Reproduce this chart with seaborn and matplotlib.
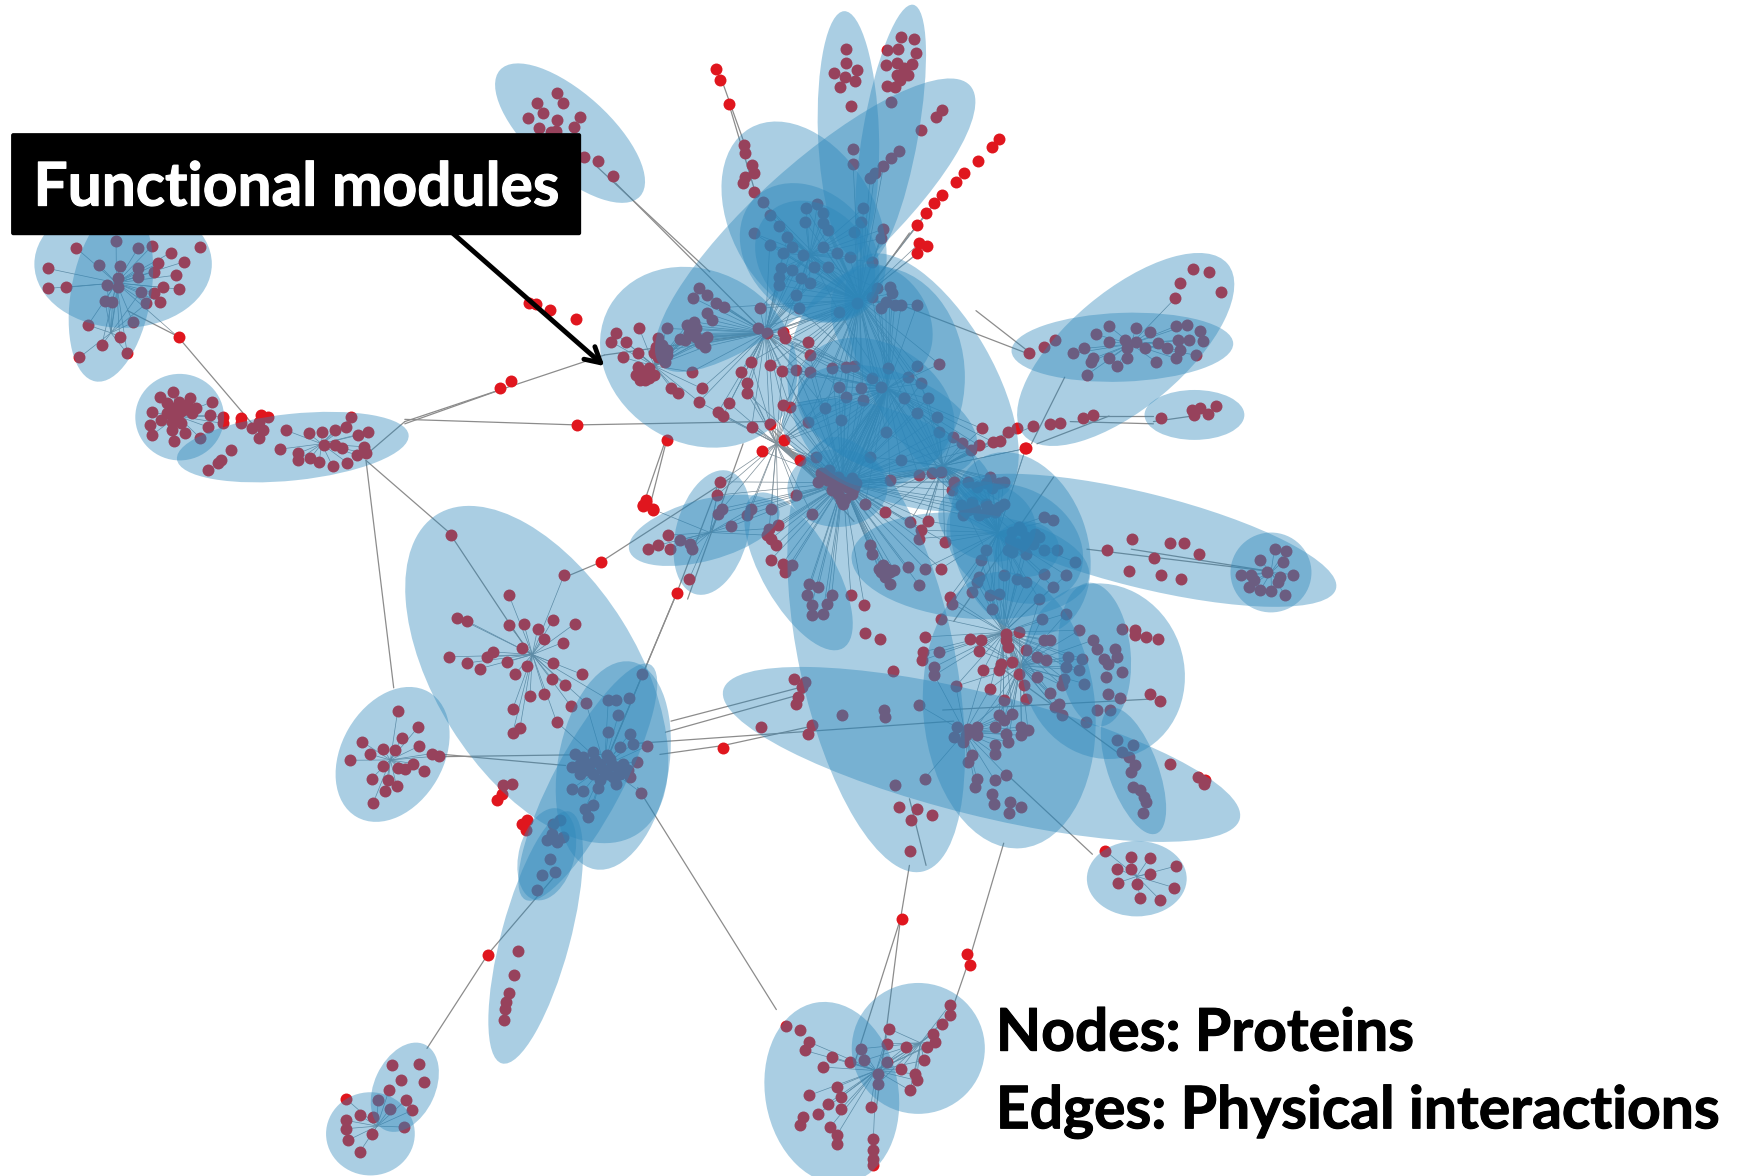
import numpy as np
import pandas as pd
import matplotlib
matplotlib.use("Agg")
import matplotlib.pyplot as plt
import matplotlib.patheffects as pe
from matplotlib.patches import Ellipse, FancyBboxPatch
import seaborn as sns

# picture units, the whole canvas is 1568 x 1060
# modules: centre x, centre y, long axis, short axis, tilt
mod_x = [514, 111, 100, 162, 264, 630, 735, 725, 730, 765, 803, 840, 790, 795, 1015, 1012, 1077, 1030, 1146, 920, 875, 720, 790, 885, 910, 995, 987, 1022, 1025, 484, 354, 553, 530, 483, 493, 635, 642, 750, 828, 334, 365, 800, 755, 800, 735, 915, 890, 925, 790]
mod_y = [120, 238, 265, 376, 403, 322, 203, 200, 228, 120, 120, 340, 340, 290, 315, 313, 374, 487, 516, 490, 510, 515, 590, 680, 640, 605, 590, 695, 792, 608, 680, 690, 705, 845, 770, 478, 480, 985, 945, 1022, 980, 410, 440, 380, 235, 490, 470, 495, 365]
mod_long = [170, 160, 160, 80, 210, 185, 376, 195, 140, 220, 235, 250, 200, 110, 240, 200, 90, 360, 73, 170, 215, 160, 400, 480, 250, 160, 130, 120, 90, 340, 130, 190, 240, 235, 85, 140, 115, 165, 120, 80, 85, 200, 90, 170, 120, 130, 90, 60, 150]
mod_short = [72, 115, 72, 78, 60, 155, 110, 130, 110, 55, 50, 110, 160, 85, 105, 62, 45, 85, 72, 120, 95, 65, 140, 110, 155, 145, 65, 45, 68, 182, 92, 100, 62, 62, 50, 55, 65, 120, 118, 75, 55, 80, 70, 90, 95, 100, 70, 50, 110]
mod_tilt = [42, 0, -80, 0, -6, 30, -42, 60, 45, 88, -80, 60, 90, 60, -40, -2, 0, 14, 0, 70, 5, 60, 78, 14, 85, 70, 85, 70, 0, 58, -60, -80, -62, -75, -75, -15, -75, 80, 0, 0, -65, 20, 0, 20, 45, 30, 20, 0, 30]

# node positions: (origin, scale) per crop
nodes_a = [(1247,278),(1202,308),(1262,310),(1217,338),(1300,350),(1183,355),(1247,360),(1207,385),(1285,380),(1235,395),(1245,392),(1308,470),(1340,482),(1373,528),
(170,743),(260,722),(310,743),(340,738),(447,740),(382,758),(413,785),(107,805),(222,795),(268,798),(310,805),(355,790),(395,825),(345,815),(310,830),(265,835),(240,855),(265,860),(107,865),(148,862),(365,862),(400,867),(315,875),(345,878),(235,902),(252,907),(328,910),(358,906),(197,975),(298,967),(268,1010),(228,1035),(285,1060),(178,1072),(400,1012),
(388,1175),(358,1190),(425,1195),(475,1205),(400,1205),(385,1225),(430,1240),(340,1237),(395,1250),(470,1245),(500,1250),(500,1270),(385,1265),(405,1270),(335,1275),(465,1280),(415,1298),(340,1305),(390,1322),(448,1313),(540,1255),(540,1270),(585,1245),(600,1250),(580,1265),(565,1285),(590,1290),(580,1315),(640,1290),(692,1300),(722,1295),(750,1290),(787,1252),(775,1280),(825,1295),(803,1305),(725,1335),(750,1335),(765,1345),(815,1340),(820,1360),(800,1365),(668,1360),(668,1380),(695,1375),(715,1385),(745,1398),(778,1388),(627,1347),(517,1350),(495,1380),(488,1390),(465,1410),
(375,1240),(410,1230),(440,1225),(420,1215),(375,1210),(385,1290),(400,1240),(360,1260),
(1185,910),(1200,912),(1233,930),(1290,957),(1145,1143),(1120,1165),(1293,1275),(1495,1320),(1447,1500),(1440,1515),(1463,1527)]

nodes_b = [(552,148),(552,190),(575,210),(525,218),(548,232),(572,243),(537,260),(562,317),
(675,112),(703,118),(643,150),(668,148),(708,158),(640,195),(665,190),(700,192),(680,205),(665,225),(690,225),(672,240),(642,258),(660,262),(652,305),
(767,330),(752,352),(718,390),(670,452),(652,475),(635,498),(615,520),(605,535),(567,447),(567,492),
(260,208),(268,240),(288,312),(323,435),(325,460),(340,495),(345,520),(325,530),(320,548),(345,575),(365,605),(380,645),(400,678),(345,700),
(893,418),(878,440),(847,482),(815,520),(798,545),(765,585),(748,610),(730,640),(710,675),(715,730),(733,738),(710,760),
(462,625),(487,612),(460,665),(500,640),(500,670),(510,690),(590,625),(585,665),(570,695),(635,687),(630,715),(380,735),(420,710),(430,740),(410,760),(455,765),(500,740),(530,760),(560,770),(610,785),(405,805),(430,810),(480,800),(400,830),(450,835),(510,800),(400,855),(440,885),(470,850),
(620,865),(650,860),(655,880),(610,890),(640,905),(660,915),(630,925),(675,915),(710,915),(575,910),(445,925),(358,925),(535,935),(222,865),(208,893),(240,885),(260,908),(278,922),(240,940),(210,965),(250,960),(195,975),(215,985),(240,1010),(205,1005),(180,1018),(225,1030),(235,1040),
(200,1000),(215,1010),(190,1020),(230,1020),
(35,1000),(25,1025),(58,1025),(88,985),(85,1060),(52,1072),(150,985),(130,1015),(125,1040),(150,1050),(130,1070),(145,1085),(110,1105),(85,1100),(80,1125),(100,1140),(120,1125),(205,1115),(160,1165),(175,1178),(228,1165),(222,1205),(290,1210),(265,1235),(275,1248),
(120,1060),(140,1035),(150,1065),(135,1055),(95,1125),(110,1135),(90,1140),
(355,985),(375,1000),(410,995),(415,1013),(465,1027),(470,1065),(338,1085),(315,1115),(380,1095),(408,1112),(440,1110),(470,1115),(330,1150),(330,1180),(410,1215),(425,1222),(465,1265),(380,1272),(340,1280),(412,1320),
(520,1105),(550,1100),(570,1098),(645,1105),(710,1098),(690,1130),(760,1092),(610,1135),(585,1165),(630,1160),(720,1150),(535,1160),(505,1225),(550,1190),(590,1200),(680,1195),(735,1195),(710,1240),(755,1250),(540,1260),(640,1295),(760,1295),(855,1285),
(790,1310),(810,1330),(830,1350),(848,1335),(880,1325),(895,1322),(915,1295),(935,1285),(970,1278),(1008,1272),(1030,1268),(1082,1253),(1105,1245),(953,1345),
(1328,808),(1365,815),(1390,877),(1300,850),(1288,895),(1140,978),(1110,1003),(1200,985),(1232,995),(1290,978),(1315,975),(1345,993),(1020,1020),(995,1040),(962,1060),(1060,1060),(1085,1045),(1105,1075),(1140,1025),(1175,1020),(1200,1025),(1250,1030),(1295,1020),(1320,1020),(1350,1022),(1180,1045),(1220,1045),(1270,1045),(1300,1050),(1335,1065),(1100,1085),(1140,1075),(1180,1075),(1245,1085),(1290,1075),(1158,1098),(1090,1125),
(1257,1255),(1325,1230),(1345,1225),(1380,1218),(1330,1245),(1362,1243)]

nodes_c = [(140,33),(225,60),(260,52),(380,50),(450,60),(520,100),(730,25),
(270,100),(290,90),(310,110),(340,115),(265,125),(300,135),(330,140),(310,160),(340,160),(315,180),(295,150),(350,130),(285,120),(320,190),
(280,105),(320,125),(305,145),(325,175),(300,115),(345,145),(335,125),
(425,120),(490,105),(540,97),(570,125),(565,150),(640,130),(680,125),(655,145),(620,140),(650,110),(670,130),(600,125),
(585,195),(610,185),(640,190),(680,190),(590,225),(625,225),(660,215),(770,230),(790,240),(715,260),(730,290),(745,310),(695,300),(760,290),(640,330),(700,335),(730,340),(770,330),(800,330),(840,365),(630,360),(770,400),(820,405),(625,410),(620,425),(680,405),(710,415),(730,425),(790,440),
(720,270),(735,300),(700,275),(750,280),(710,310),(725,320),(690,330),(600,210),(650,205),(670,200),(640,215),(615,205),
(415,215),(470,245),(510,243),(495,270),(490,295),(548,305),(370,190),(250,220),(215,165),(160,205),(115,205),(105,225),(50,205),(70,258),(45,125),(38,165),(40,220),(155,265),(175,255),(150,285),(170,315),(160,295),(158,360),(185,370),(205,375),(190,395),(245,430),(265,440),(240,465),(295,465),(250,495),(285,490),(250,525),(275,520),(338,463),(368,495),
(380,315),(385,340),(420,385),(410,375),(435,390),(415,410),(425,430),(400,385),(425,395),(405,395),(465,380),(503,385),(540,385),(490,433),(610,455),(650,465),(670,460),(560,470),(565,490),(655,505),(760,477),(540,535),(820,520),(765,535),
(945,565),(975,570),(975,585),(1000,590),(1027,597),
(370,577),(403,597),(505,590),(500,635),(535,635),(498,660),(525,680),(525,705),(432,692),
(605,595),(630,600),(625,632),(685,580),(715,575),(685,600),(690,620),(635,688),(675,670),(700,665),(670,690),(715,700),(725,735),(755,650),(775,660),(770,600),(730,628),(785,600),(850,570),(880,600),(890,625),(930,625),(935,650),(905,655),(915,670),(825,650),(855,655),(820,680),(850,690),(815,715),(910,710),(945,695),(860,730),(810,735),(785,758),(755,710),(650,745),(573,738),
(915,760),(940,773),(680,780),(730,775),(805,790),(795,800),(810,825),(890,808),(918,808),(865,845),
(1008,760),(1030,782),
(210,715),(235,725),(228,740),(220,770),(215,790),(318,825),(413,810),(415,830),(490,795),(137,860),(250,855),(243,880),(52,922),
(670,825),(700,820),(660,860),(680,840),(720,860),(735,870),(720,885),(685,880),(690,905),(660,915),(660,940),
(575,860),(600,865),(620,860),(570,890),(595,885),(620,885),(590,905),(610,945),(600,965),(935,900),(970,915),(945,935),(960,950),(975,975),(965,995),(1052,970),(1115,1010),(1132,1020),(1130,1032),(970,1040),(985,1050),(995,1070),(1000,1085),(993,1117),
(620,1015),(617,1040),(660,1020),(685,1003),(655,1060),(658,1090),(695,1085),(718,1100),(692,1118),(503,1015),(437,1035),(445,1100),(485,1105),(520,1125),(472,1140),(470,1232),
(908,1232),(965,1250),(1007,1252),(1067,1277),(933,1285),(965,1285),(1008,1300),(937,1327),(978,1330),(1062,1342),(985,1372),(1030,1378),
(968,295),(912,330),(1052,308),(1085,308),(1118,340),(1017,352),(962,393),(1032,405),(1077,415),
(1287,325),(1312,332),(1255,360),(1305,365),(1270,395),(1212,403),(1235,405),(1328,403),(1300,410),(1230,440),(1255,450),(1280,452),(1310,465),(1240,420),(1295,425)]

nodes_d = [(452,165),(792,285),(627,345),(902,245),(472,412),(502,423),(627,435),(672,432),(758,420),(825,430),(713,445),(732,475),(788,487),(667,502),(580,515),(560,530),(448,530),(502,548),(540,565),(622,545),(682,557),(758,547),(645,582),(845,582),(757,597),(795,615),(690,648),(733,640),(813,678),(858,668),(638,687),(770,725),(660,743),(638,758),
(925,658),(948,658),(988,652),(1025,582),(955,703),(925,755),(990,760),
(825,820),(815,860),(850,830),(880,815),(920,825),(960,800),(1000,790),(1040,798),(870,850),(900,850),(935,855),(970,850),(1010,845),(840,880),(880,880),(920,880),(960,880),(990,890),(817,925),(850,932),(895,922),(948,910),(1023,937),
(840,850),(885,840),(905,865),(950,860),(930,835),(985,870),(860,870),(900,900),(940,890),
(880,975),(855,985),(865,1010),(635,910),(610,915),(605,940),(592,960),(680,1020),(665,1030),(678,1048),
(780,1020),(760,1030),(755,1060),(790,1070),(740,1080),(770,1085),(750,1137),(765,1175),(725,1185),
(293,692),(355,740),(305,772),(187,785),(248,805),(285,810),(358,797),(210,822),(150,840),(395,820),(418,827),(250,858),(295,862),(315,865),(340,850),(372,872),(215,895),(265,900),(290,918),(255,933),(220,967),
(1037,65),(1030,78),(1060,88),(1130,337),(1167,297),
(1045,205),(1075,195),(1105,165),(1110,205),(1140,180),(1170,190),(1175,205)]

nodes_e = [(205,285),(238,272),(233,345),(228,397),(225,425),(223,445),(222,480),(258,88),
(656,175),(727,280),(730,315),
(530,497),(545,510),(555,545),(550,570),(580,590),(600,605),(615,600),(640,605),(612,565),(642,505),(640,550),(660,560),(690,520),(692,545),(708,435),(708,465),(700,490),(683,560),(680,600),(655,625),(670,640),(672,660),(665,690),(630,640),(630,670),(570,620),(585,680),(590,710),(575,730),(590,745),(548,770),(545,795),(565,760),(555,705),(578,800),(585,825),(585,850),(622,740),(625,835),(625,870),(625,895),(625,915),
(50,715),(100,615),(130,610),(135,665),(110,660),(97,690),(115,720),(122,750),(85,720),(98,745),(65,765),(80,770),(50,780),(78,822),(113,800),(52,840),(65,875),(50,805)]

# hubs: x, y, reach - every node within reach links to the hub
hub_x = [105, 100, 160, 290, 480, 545, 352, 340, 760, 800, 730, 900, 920, 905, 870, 1020, 1146, 790, 830, 640, 590, 1025, 775, 690, 850, 700]
hub_y = [255, 300, 375, 400, 590, 690, 685, 1015, 435, 350, 230, 480, 600, 570, 660, 310, 516, 965, 940, 480, 330, 790, 270, 300, 420, 400]
hub_r = [75, 50, 45, 50, 85, 60, 50, 45, 120, 110, 75, 80, 70, 80, 60, 60, 32, 70, 60, 55, 55, 50, 125, 90, 90, 80]

# long single edges: x0, y0, x1, y1
edge_x0 = [115,160,538,555,330,330,405,365,365,365,520,541,541,601,600,610,650,670,575,400,400,605,600,595,652,575,440,440,812,820,812,874,874,835,910,880,800,985,935,960,650,657,820,980,1020,545,690,545,965,950,1040,900,850,330]
edge_y0 = [280,303,150,165,415,415,480,380,382,378,383,507,507,397,397,535,430,400,710,680,682,650,660,680,672,670,860,860,828,780,828,865,865,780,700,280,270,375,400,340,70,93,210,495,495,320,380,690,380,430,380,600,640,410]
edge_x1 = [160,230,640,700,355,405,478,545,455,520,690,660,510,585,580,545,610,620,700,510,545,720,725,652,730,860,500,385,790,812,770,905,855,820,985,925,930,1040,1000,930,675,680,770,1145,1145,690,770,610,1040,860,1075,1010,1040,365]
edge_y1 = [303,385,245,310,620,480,590,320,350,383,380,430,520,460,455,690,535,540,910,690,680,620,625,672,655,650,790,945,1000,828,960,760,920,720,770,315,320,375,375,400,140,170,280,515,515,300,470,535,382,560,375,680,630,380]

TEXT_BOX = "Functional modules"
TEXT_NODES = "Nodes: Proteins"
TEXT_EDGES = "Edges: Physical interactions"

K = 1739 / 1568

def to_picture(points, ox, oy, sx, sy):
    pts = np.array(points, dtype=float)
    return np.column_stack([(ox + pts[:, 0] / sx) / K, (oy + pts[:, 1] / sy) / K])

xy = np.vstack([
    to_picture(nodes_a, 0, 0, 2.24, 3),
    to_picture(nodes_b, 600, 0, 2.24, 3),
    to_picture(nodes_c, 700, 440, 2.24, 3),
    to_picture(nodes_d, 300, 480, 3, 3),
    to_picture(nodes_e, 300, 860, 1.09, 3),
])
df = pd.DataFrame({"x": xy[:, 0], "y": xy[:, 1]})

sns.set_theme(style="white")
fig, ax = plt.subplots(figsize=(17.39, 11.76), dpi=100)
fig.subplots_adjust(left=0, right=1, bottom=0, top=1)

# hub fans
for hx, hy, hr in zip(hub_x, hub_y, hub_r):
    near = df[np.hypot(df.x - hx, df.y - hy) < hr]
    for _, row in near.iterrows():
        ax.plot([hx, row.x], [hy, row.y], color="#7f8f99", lw=0.5, zorder=1)

for a, b, c, d in zip(edge_x0, edge_y0, edge_x1, edge_y1):
    ax.plot([a, c], [b, d], color="#8c8c8c", lw=0.9, zorder=1)

sns.scatterplot(data=df, x="x", y="y", color="#e0161e", s=74, linewidth=0, ax=ax, zorder=2)

for x, y, l, s, t in zip(mod_x, mod_y, mod_long, mod_short, mod_tilt):
    ax.add_patch(Ellipse((x, y), l, s, angle=t, facecolor="#2b86ba", edgecolor="none", alpha=0.4, zorder=3))

ax.set_xlim(0, 1568)
ax.set_ylim(1060, 0)
ax.axis("off")

# label box and arrow
ax.annotate("", xy=(545, 330), xytext=(408, 210),
            arrowprops=dict(arrowstyle="->,head_length=0.9,head_width=0.5", color="black", lw=3.5, shrinkA=0, shrinkB=0), zorder=5)
ax.add_patch(FancyBboxPatch((12, 122), 510, 88, boxstyle="round,pad=2,rounding_size=2", facecolor="black", edgecolor="none", zorder=6))
stroke_w = [pe.withStroke(linewidth=0.8, foreground="white")]
stroke_k = [pe.withStroke(linewidth=0.8, foreground="black")]
ax.text(267, 170, TEXT_BOX, color="white", fontsize=43.5, fontweight="bold", family="Lato", ha="center", va="center", zorder=7, path_effects=stroke_w)
ax.text(898, 947, TEXT_NODES, color="black", fontsize=42.3, fontweight="bold", family="Lato", ha="left", va="baseline", zorder=7, path_effects=stroke_k)
ax.text(898, 1017, TEXT_EDGES, color="black", fontsize=42.3, fontweight="bold", family="Lato", ha="left", va="baseline", zorder=7, path_effects=stroke_k)

fig.savefig("out.png", dpi=100, facecolor="white")
